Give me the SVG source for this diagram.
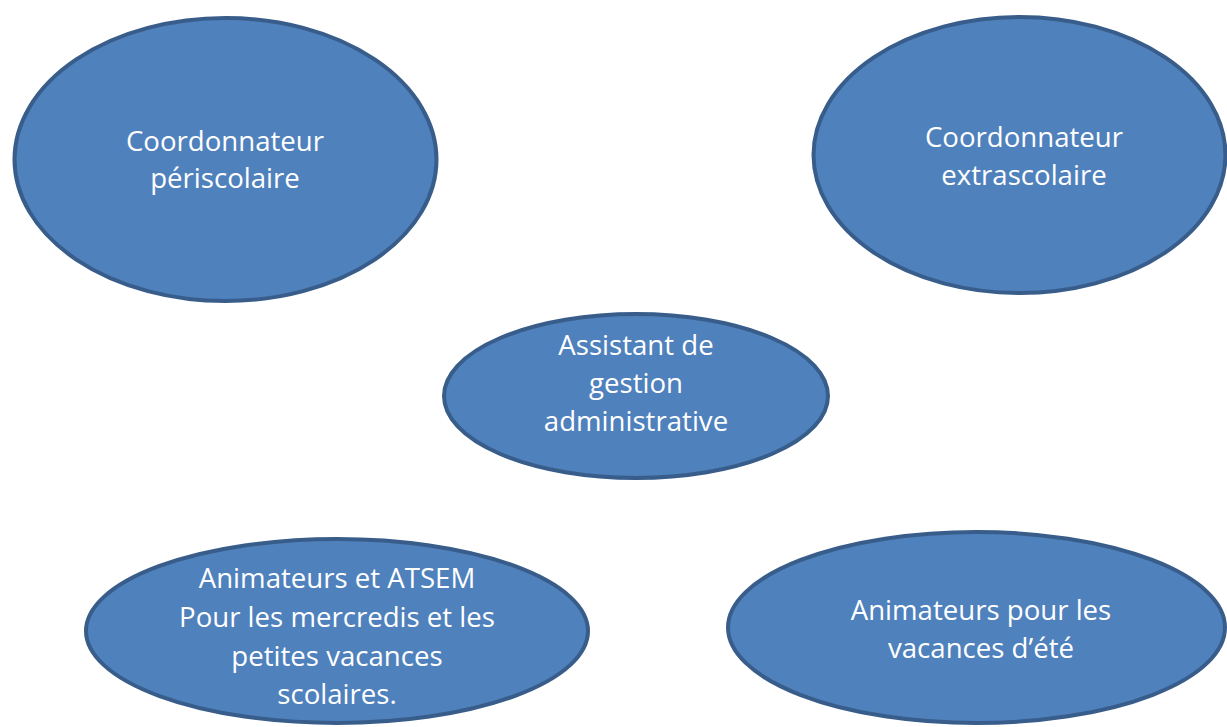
<svg xmlns="http://www.w3.org/2000/svg" width="1227" height="727" viewBox="0 0 1227 727">
<style>
.node ellipse{fill:#4F81BD;stroke:#385D8A;stroke-width:4}
.node text{font-family:"Open Sans","Noto Sans",sans-serif;font-size:27.6px;fill:#FFFFFF;text-anchor:middle}
</style>
<rect width="1227" height="727" fill="#FFFFFF"/>
<g id="connectors"></g>
<g id="n-periscolaire" class="node">
<ellipse cx="225.5" cy="159.5" rx="211" ry="141.5"/>
<text x="225" y="151">Coordonnateur</text>
<text x="225" y="188">périscolaire</text>
</g>
<g id="n-extrascolaire" class="node">
<ellipse cx="1019.5" cy="155" rx="206" ry="138"/>
<text x="1024" y="147">Coordonnateur</text>
<text x="1024" y="185">extrascolaire</text>
</g>
<g id="n-assistant" class="node">
<ellipse cx="636" cy="396" rx="192" ry="82"/>
<text x="636" y="355">Assistant de</text>
<text x="636" y="393">gestion</text>
<text x="636" y="431">administrative</text>
</g>
<g id="n-animateurs-atsem" class="node">
<ellipse cx="337" cy="631" rx="251" ry="92"/>
<text x="337" y="588">Animateurs et ATSEM</text>
<text x="337" y="627">Pour les mercredis et les</text>
<text x="337" y="666">petites vacances</text>
<text x="337" y="704">scolaires.</text>
</g>
<g id="n-animateurs-ete" class="node">
<ellipse cx="976.5" cy="627.5" rx="248.5" ry="95.5"/>
<text x="981" y="620">Animateurs pour les</text>
<text x="981" y="658">vacances d’été</text>
</g>
</svg>
